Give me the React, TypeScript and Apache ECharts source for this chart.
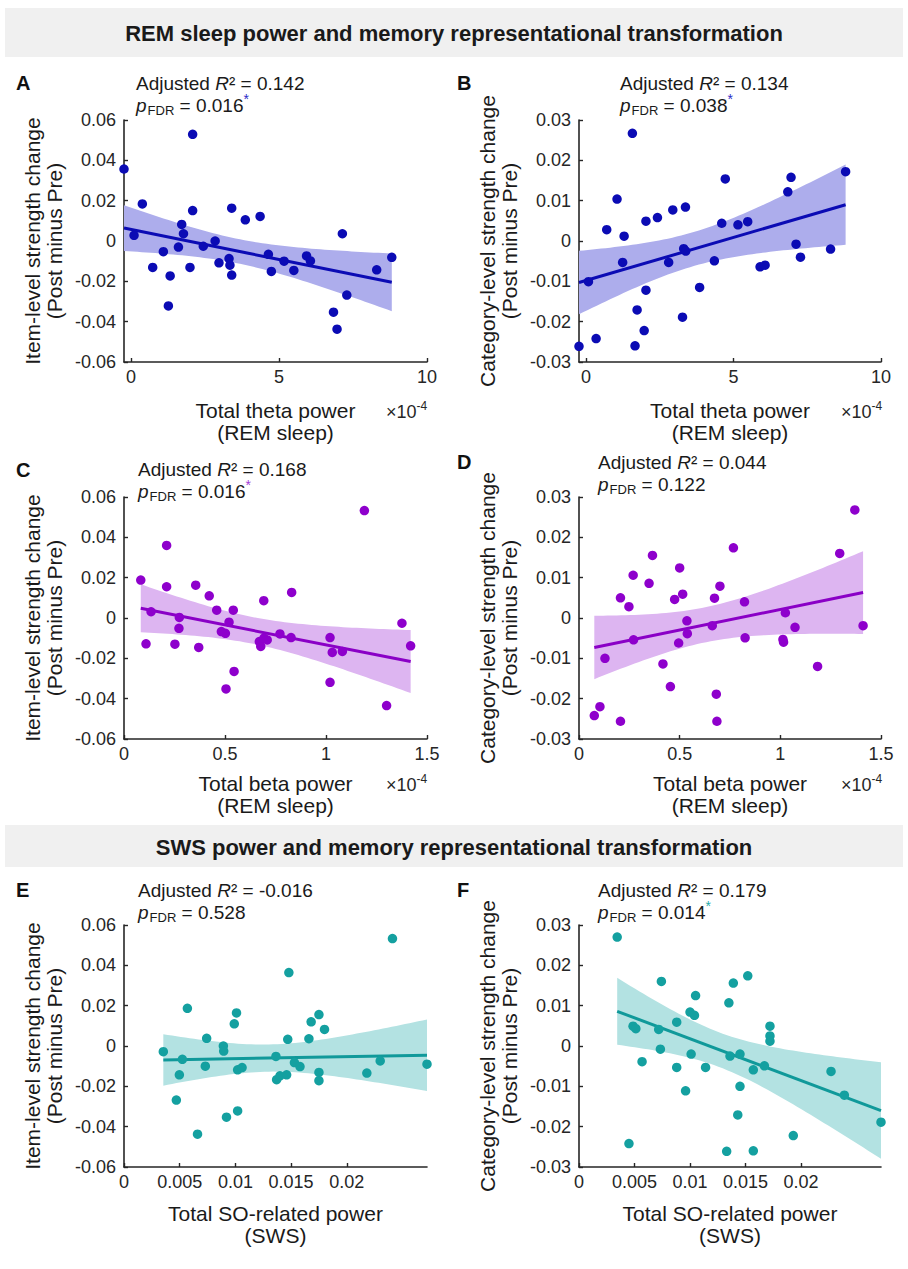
import React, { useEffect, useRef } from 'react';
import * as echarts from 'echarts';

// ---------------- data ----------------
// Panel A: total theta power (x1e-4) vs item-level strength change
const thetaA = [-0.24, 0.10, 0.38, 0.73, 1.09, 1.26, 1.32, 1.60, 1.71, 1.77, 1.99, 2.08, 2.08, 2.44, 2.84, 2.97, 3.31, 3.34, 3.40, 3.40, 3.86, 4.36, 4.64, 4.74, 5.17, 5.50, 5.93, 6.06, 6.84, 6.96, 7.14, 7.29, 8.30, 8.81];
const itemChangeA = [0.0357, 0.0028, 0.0184, -0.0131, -0.0053, -0.0322, -0.0173, -0.0030, 0.0082, 0.0036, -0.0131, 0.0529, 0.0151, -0.0026, 0.0000, -0.0108, -0.0087, -0.0120, 0.0163, -0.0169, 0.0105, 0.0122, -0.0066, -0.0151, -0.0100, -0.0146, -0.0074, -0.0099, -0.0353, -0.0437, 0.0036, -0.0268, -0.0143, -0.0081];

// Panel B: total theta power (x1e-4) vs category-level strength change
const thetaB = [-0.24, 0.08, 0.34, 0.70, 1.05, 1.24, 1.29, 1.57, 1.66, 1.73, 1.97, 2.03, 2.03, 2.42, 2.80, 2.94, 3.27, 3.31, 3.37, 3.38, 3.85, 4.35, 4.60, 4.72, 5.15, 5.48, 5.90, 6.07, 6.84, 6.95, 7.12, 7.27, 8.29, 8.80];
const catChangeB = [-0.0261, -0.0101, -0.0242, 0.0028, 0.0104, -0.0053, 0.0012, 0.0267, -0.0260, -0.0171, -0.0222, -0.0122, 0.0049, 0.0058, -0.0053, 0.0077, -0.0189, -0.0019, 0.0084, -0.0025, -0.0115, -0.0049, 0.0044, 0.0154, 0.0040, 0.0048, -0.0064, -0.0060, 0.0122, 0.0158, -0.0008, -0.0040, -0.0020, 0.0172];

// Panel C: total beta power (x1e-4) vs item-level strength change
const betaC = [0.083, 0.109, 0.134, 0.211, 0.211, 0.252, 0.274, 0.272, 0.355, 0.370, 0.422, 0.459, 0.482, 0.502, 0.505, 0.520, 0.541, 0.545, 0.670, 0.677, 0.692, 0.693, 0.709, 0.772, 0.827, 0.830, 1.020, 1.020, 1.031, 1.081, 1.190, 1.300, 1.376, 1.419];
const itemChangeC = [0.0188, -0.0128, 0.0031, 0.0360, 0.0155, -0.0130, 0.0003, -0.0051, 0.0163, -0.0146, 0.0110, 0.0039, -0.0067, -0.0076, -0.0352, -0.0021, 0.0039, -0.0265, -0.0117, -0.0141, 0.0086, -0.0100, -0.0109, -0.0079, -0.0097, 0.0127, -0.0097, -0.0319, -0.0171, -0.0166, 0.0533, -0.0434, -0.0026, -0.0138];

// Panel D: total beta power (x1e-4) vs category-level strength change
const betaD = [0.076, 0.104, 0.129, 0.206, 0.206, 0.248, 0.269, 0.271, 0.348, 0.365, 0.417, 0.454, 0.475, 0.495, 0.500, 0.515, 0.536, 0.538, 0.662, 0.673, 0.682, 0.685, 0.700, 0.767, 0.822, 0.825, 1.013, 1.016, 1.025, 1.073, 1.185, 1.295, 1.370, 1.411];
const catChangeD = [-0.0242, -0.0220, -0.0100, 0.0050, -0.0256, 0.0028, 0.0106, -0.0054, 0.0086, 0.0155, -0.0114, -0.0170, 0.0046, -0.0062, 0.0124, 0.0059, -0.0007, -0.0039, -0.0019, 0.0049, -0.0189, -0.0256, 0.0079, 0.0174, 0.0040, -0.0049, -0.0053, -0.0060, 0.0013, -0.0023, -0.0120, 0.0160, 0.0268, -0.0019];

// Panel E: total SO-related power vs item-level strength change
const soE = [0.00353, 0.00497, 0.00524, 0.00569, 0.00730, 0.00742, 0.00892, 0.00895, 0.00990, 0.01010, 0.01020, 0.01060, 0.01364, 0.01370, 0.01400, 0.01460, 0.01470, 0.01480, 0.01530, 0.01580, 0.01660, 0.01680, 0.01750, 0.01750, 0.01750, 0.01800, 0.02180, 0.02300, 0.02410, 0.02720, 0.00470, 0.00660, 0.00920, 0.01020];
const itemChangeE = [-0.0028, -0.0143, -0.0066, 0.0187, -0.0100, 0.0038, 0.0000, -0.0025, 0.0110, 0.0164, -0.0118, -0.0107, -0.0052, -0.0167, -0.0148, -0.0143, 0.0033, 0.0364, -0.0082, -0.0102, 0.0036, 0.0120, 0.0156, -0.0131, -0.0172, 0.0082, -0.0134, -0.0074, 0.0533, -0.0090, -0.0268, -0.0437, -0.0353, -0.0322];

// Panel F: total SO-related power vs category-level strength change
const soF = [0.00344, 0.00487, 0.00512, 0.00568, 0.00718, 0.00733, 0.00742, 0.00880, 0.00880, 0.01000, 0.01010, 0.01040, 0.01050, 0.01140, 0.01350, 0.01360, 0.01390, 0.01450, 0.01450, 0.01520, 0.01570, 0.01670, 0.01720, 0.01720, 0.01720, 0.02270, 0.00960, 0.00450, 0.01930, 0.02720, 0.01430, 0.02390, 0.01330, 0.01570];
const catChangeF = [0.0270, 0.0049, 0.0043, -0.0039, 0.0041, -0.0008, 0.0160, -0.0053, 0.0059, 0.0084, -0.0020, 0.0076, 0.0125, -0.0053, 0.0107, -0.0025, 0.0156, -0.0020, -0.0100, 0.0174, -0.0059, -0.0049, 0.0049, 0.0025, 0.0012, -0.0063, -0.0111, -0.0242, -0.0222, -0.0189, -0.0171, -0.0122, -0.0261, -0.0260];

// fitted line value read at the smallest and at the largest x of each panel
const fitEndsA = [0.0064, -0.0205];
const fitEndsB = [-0.0103, 0.0090];
const fitEndsC = [0.0048, -0.0216];
const fitEndsD = [-0.0073, 0.0063];
const fitEndsE = [-0.0069, -0.0046];
const fitEndsF = [0.0086, -0.0160];

// tick labels
const thetaTicks = [0, 5, 10];
const betaTicks = [0, 0.5, 1, 1.5];
const soTicks = [0, 0.005, 0.01, 0.015, 0.02];
const itemTicks = [-0.06, -0.04, -0.02, 0, 0.02, 0.04, 0.06];
const catTicks = [-0.03, -0.02, -0.01, 0, 0.01, 0.02, 0.03];

// statistics shown above each panel
const adjR2 = ['0.142', '0.134', '0.168', '0.044', '-0.016', '0.179'];
const pFdr = ['0.016', '0.038', '0.016', '0.122', '0.528', '0.014'];
const significant = [true, true, true, false, false, true];

// ---------------- styling / layout ----------------
const FONT = '"Liberation Sans", Arial, Helvetica, sans-serif';
const AX = '#262626';
const TXT = '#1a1a1a';

const THEMES = {
  blue: { dot: '#0b0bb4', line: '#0b0bb4', band: '#adadec', star: '#2a2ac8' },
  purple: { dot: '#8e00cc', line: '#8a00c6', band: '#ddb5f1', star: '#a23ad8' },
  teal: { dot: '#14a0a0', line: '#10999a', band: '#b3e2e2', star: '#26aaaa' },
};

const GRID_H = 242;

const panels = [
  { id: 'A', xs: thetaA, ys: itemChangeA, ends: fitEndsA, left: 124, top: 120, w: 303, xMin: -0.24, xMax: 10, xTicks: thetaTicks, yTicks: itemTicks, theme: THEMES.blue, xTitle: 'Total theta power\n(REM sleep)', yTitle: 'Item-level strength change\n(Post minus Pre)', exp: true, titleGap: 59, letterX: 16, letterY: 83, annX: 136, annY: 83 },
  { id: 'B', xs: thetaB, ys: catChangeB, ends: fitEndsB, left: 579, top: 120, w: 302, xMin: -0.24, xMax: 10, xTicks: thetaTicks, yTicks: catTicks, theme: THEMES.blue, xTitle: 'Total theta power\n(REM sleep)', yTitle: 'Category-level strength change\n(Post minus Pre)', exp: true, titleGap: 59, letterX: 457, letterY: 83, annX: 620, annY: 83 },
  { id: 'C', xs: betaC, ys: itemChangeC, ends: fitEndsC, left: 124, top: 497, w: 303, xMin: 0, xMax: 1.5, xTicks: betaTicks, yTicks: itemTicks, theme: THEMES.purple, xTitle: 'Total beta power\n(REM sleep)', yTitle: 'Item-level strength change\n(Post minus Pre)', exp: true, titleGap: 55, letterX: 16, letterY: 470, annX: 138, annY: 469 },
  { id: 'D', xs: betaD, ys: catChangeD, ends: fitEndsD, left: 579, top: 497, w: 302, xMin: 0, xMax: 1.5, xTicks: betaTicks, yTicks: catTicks, theme: THEMES.purple, xTitle: 'Total beta power\n(REM sleep)', yTitle: 'Category-level strength change\n(Post minus Pre)', exp: true, titleGap: 55, letterX: 457, letterY: 462, annX: 598, annY: 462 },
  { id: 'E', xs: soE, ys: itemChangeE, ends: fitEndsE, left: 124, top: 925, w: 303, xMin: 0, xMax: 0.0272, xTicks: soTicks, yTicks: itemTicks, theme: THEMES.teal, xTitle: 'Total SO-related power\n(SWS)', yTitle: 'Item-level strength change\n(Post minus Pre)', exp: false, titleGap: 57, letterX: 16, letterY: 890, annX: 138, annY: 890 },
  { id: 'F', xs: soF, ys: catChangeF, ends: fitEndsF, left: 579, top: 925, w: 302, xMin: 0, xMax: 0.0272, xTicks: soTicks, yTicks: catTicks, theme: THEMES.teal, xTitle: 'Total SO-related power\n(SWS)', yTitle: 'Category-level strength change\n(Post minus Pre)', exp: false, titleGap: 57, letterX: 457, letterY: 890, annX: 598, annY: 890 },
];

// fitted line (from the read end values) with a 95% confidence band whose
// width follows from the scatter's residual spread
function fitBand(xs: number[], ys: number[], ends: number[], steps = 60) {
  const n = xs.length;
  const lo = Math.min(...xs);
  const hi = Math.max(...xs);
  const b = (ends[1] - ends[0]) / (hi - lo);
  const yhat = (x: number) => ends[0] + b * (x - lo);
  const mx = xs.reduce((s, v) => s + v, 0) / n;
  let sxx = 0;
  let sse = 0;
  for (let i = 0; i < n; i++) {
    sxx += (xs[i] - mx) * (xs[i] - mx);
    const r = ys[i] - yhat(xs[i]);
    sse += r * r;
  }
  const s = Math.sqrt(sse / (n - 2));
  const t = 2.0369;
  const upper: number[][] = [];
  const lower: number[][] = [];
  for (let i = 0; i <= steps; i++) {
    const x = lo + ((hi - lo) * i) / steps;
    const se = s * Math.sqrt(1 / n + ((x - mx) * (x - mx)) / sxx);
    upper.push([x, yhat(x) + t * se]);
    lower.push([x, yhat(x) - t * se]);
  }
  return { line: [[lo, ends[0]], [hi, ends[1]]], upper, lower };
}

const fmt = (v: number) => {
  if (Math.abs(v) < 1e-12) return '0';
  return String(+v.toFixed(6));
};

function buildOption() {
  const grid: any[] = [];
  const xAxis: any[] = [];
  const yAxis: any[] = [];
  const series: any[] = [];
  const graphic: any[] = [];

  // section headers
  graphic.push(
    { type: 'rect', shape: { x: 5, y: 8, width: 898, height: 49 }, style: { fill: '#f0f0f0' }, silent: true },
    { type: 'text', x: 454, y: 33, style: { text: 'REM sleep power and memory representational transformation', align: 'center', verticalAlign: 'middle', fontFamily: FONT, fontSize: 22, fontWeight: 'bold', fill: TXT } },
    { type: 'rect', shape: { x: 5, y: 825, width: 898, height: 42 }, style: { fill: '#f0f0f0' }, silent: true },
    { type: 'text', x: 454, y: 847, style: { text: 'SWS power and memory representational transformation', align: 'center', verticalAlign: 'middle', fontFamily: FONT, fontSize: 22, fontWeight: 'bold', fill: TXT } }
  );

  panels.forEach((p, i) => {
    const yMax = p.yTicks[p.yTicks.length - 1];
    grid.push({ left: p.left, top: p.top, width: p.w, height: GRID_H, containLabel: false });
    xAxis.push({
      type: 'value', gridIndex: i, min: p.xMin, max: p.xMax,
      axisLine: { show: true, onZero: false, lineStyle: { color: AX, width: 1.6 } },
      axisTick: { show: true, inside: true, length: 4, customValues: p.xTicks, lineStyle: { color: AX, width: 1.4 } },
      axisLabel: { customValues: p.xTicks, formatter: fmt, fontFamily: FONT, fontSize: 18, color: AX, margin: 6 },
      splitLine: { show: false },
    });
    yAxis.push({
      type: 'value', gridIndex: i, min: -yMax, max: yMax,
      axisLine: { show: true, onZero: false, lineStyle: { color: AX, width: 1.6 } },
      axisTick: { show: true, inside: true, length: 4, customValues: p.yTicks, lineStyle: { color: AX, width: 1.4 } },
      axisLabel: { customValues: p.yTicks, formatter: fmt, fontFamily: FONT, fontSize: 18, color: AX, margin: 8 },
      splitLine: { show: false },
    });

    const f = fitBand(p.xs, p.ys, p.ends);
    const bandColor = p.theme.band;
    series.push({
      type: 'custom', xAxisIndex: i, yAxisIndex: i, silent: true, z: 1,
      data: [f.line[0]],
      renderItem: (_params: any, api: any) => {
        const pts = f.upper.map((q) => api.coord(q)).concat(f.lower.slice().reverse().map((q) => api.coord(q)));
        return { type: 'polygon', shape: { points: pts }, style: { fill: bandColor } };
      },
    });
    series.push({
      type: 'line', xAxisIndex: i, yAxisIndex: i, z: 2, silent: true,
      data: f.line, showSymbol: false, symbol: 'none',
      lineStyle: { color: p.theme.line, width: 3 },
    });
    series.push({
      type: 'scatter', xAxisIndex: i, yAxisIndex: i, z: 3,
      data: p.xs.map((x, k) => [x, p.ys[k]]),
      symbolSize: 9.5,
      itemStyle: { color: p.theme.dot, opacity: 1 },
    });

    const cx = p.left + p.w / 2;
    const cy = p.top + GRID_H / 2;
    const bottom = p.top + GRID_H;

    // panel letter
    graphic.push({ type: 'text', x: p.letterX, y: p.letterY, style: { text: p.id, align: 'left', verticalAlign: 'middle', fontFamily: FONT, fontSize: 20, fontWeight: 'bold', fill: '#111' } });

    // statistics
    graphic.push({
      type: 'text', x: p.annX, y: p.annY,
      style: {
        text: '{t|Adjusted }{i|R}{t|\u00b2 = ' + adjR2[i] + '}',
        align: 'left', verticalAlign: 'middle', fontFamily: FONT, fontSize: 19, fill: TXT,
        rich: {
          t: { fontFamily: FONT, fontSize: 19, fill: TXT, lineHeight: 24 },
          i: { fontFamily: FONT, fontSize: 19, fontStyle: 'italic', fill: TXT, lineHeight: 24 },
        },
      },
    });
    graphic.push({
      type: 'text', x: p.annX, y: p.annY + 22,
      style: {
        text: '{i|p}{sub|FDR}{t| = ' + pFdr[i] + '}' + (significant[i] ? '{s|*}' : ''),
        align: 'left', verticalAlign: 'middle', fontFamily: FONT, fontSize: 19, fill: TXT,
        rich: {
          i: { fontFamily: FONT, fontSize: 19, fontStyle: 'italic', fill: TXT, lineHeight: 26, verticalAlign: 'middle' },
          sub: { fontFamily: FONT, fontSize: 13, fill: TXT, lineHeight: 13, verticalAlign: 'bottom', padding: [0, 0, 1, 1] },
          t: { fontFamily: FONT, fontSize: 19, fill: TXT, lineHeight: 26, verticalAlign: 'middle' },
          s: { fontFamily: FONT, fontSize: 14, fill: p.theme.star, lineHeight: 14, verticalAlign: 'top' },
        },
      },
    });

    // x axis title
    graphic.push({ type: 'text', x: cx, y: bottom + p.titleGap, style: { text: p.xTitle, align: 'center', verticalAlign: 'middle', fontFamily: FONT, fontSize: 21, lineHeight: 22, fill: TXT } });
    // y axis title (rotated)
    graphic.push({ type: 'text', x: p.left - 81, y: cy, rotation: Math.PI / 2, style: { text: p.yTitle, align: 'center', verticalAlign: 'middle', fontFamily: FONT, fontSize: 21, lineHeight: 22, fill: TXT } });
    // exponent
    if (p.exp) {
      graphic.push({
        type: 'text', x: p.left + 262, y: bottom + p.titleGap - 9,
        style: {
          text: '{t|\u00d710}{s|-4}', align: 'left', verticalAlign: 'middle', fontFamily: FONT, fontSize: 18, fill: AX,
          rich: {
            t: { fontFamily: FONT, fontSize: 18, fill: AX, lineHeight: 24, verticalAlign: 'middle' },
            s: { fontFamily: FONT, fontSize: 12, fill: AX, lineHeight: 14, verticalAlign: 'top' },
          },
        },
      });
    }
  });

  return { animation: false, backgroundColor: '#ffffff', grid, xAxis, yAxis, series, graphic };
}

export default function App() {
  const ref = useRef<HTMLDivElement>(null);
  useEffect(() => {
    if (!ref.current) return;
    const chart = echarts.init(ref.current, undefined, { renderer: 'svg' });
    chart.setOption(buildOption() as any);
    return () => chart.dispose();
  }, []);
  return <div ref={ref} style={{ position: 'absolute', left: 0, top: 0, width: 908, height: 1269, background: '#fff' }} />;
}
